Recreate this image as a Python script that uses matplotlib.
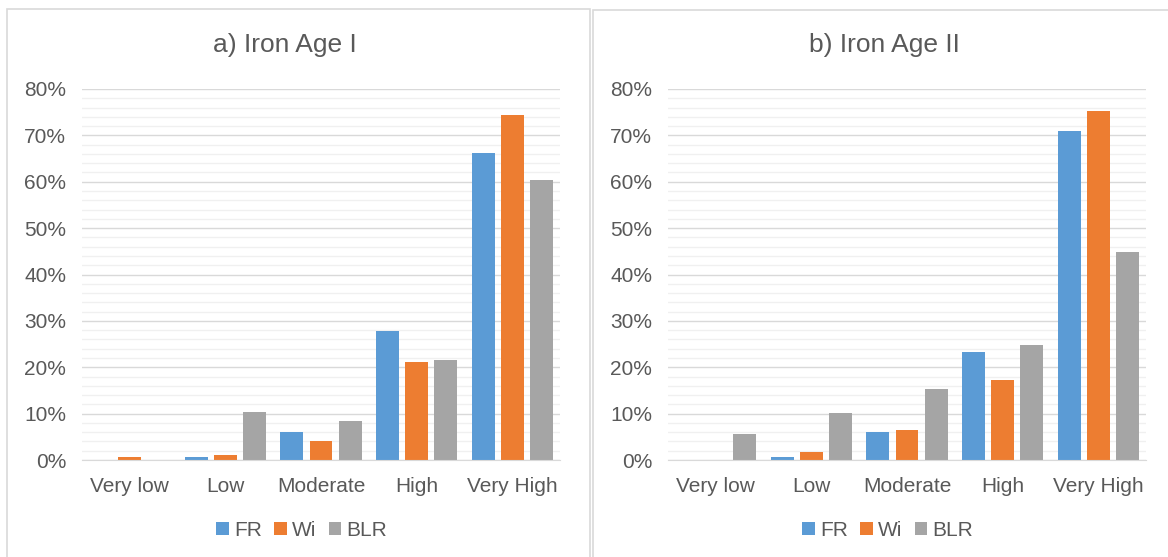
import numpy as np
import matplotlib
matplotlib.use("Agg")
from matplotlib import pyplot as plt
from matplotlib.patches import Rectangle
from matplotlib.ticker import MultipleLocator, PercentFormatter

categories = ["Very low", "Low", "Moderate", "High", "Very High"]
series = ["FR", "Wi", "BLR"]
colors = ["#5B9BD5", "#ED7D31", "#A5A5A5"]

iron_age_1 = {
    "FR": [0.0, 0.7, 6.0, 27.9, 66.2],
    "Wi": [0.6, 1.0, 4.0, 21.1, 74.5],
    "BLR": [0.0, 10.3, 8.5, 21.5, 60.3],
}
iron_age_2 = {
    "FR": [0.0, 0.6, 6.0, 23.2, 71.0],
    "Wi": [0.0, 1.8, 6.5, 17.3, 75.3],
    "BLR": [5.6, 10.2, 15.3, 24.8, 44.9],
}
titles = ["a) Iron Age I", "b) Iron Age II"]

plt.rcParams['font.family'] = ['Liberation Sans', 'DejaVu Sans']
text_col = "#595959"

W, H = 1168, 557
fig = plt.figure(figsize=(W / 100, H / 100), dpi=100)

# panel frames (pixel coords: left, top, right, bottom)
frames = [(7, 9, 590, 570), (593, 10, 1180, 570)]
for (l, t, r, b) in frames:
    fig.patches.append(Rectangle((l / W, 1 - b / H), (r - l) / W, (b - t) / H,
                                 transform=fig.transFigure, fill=False,
                                 edgecolor="#D9D9D9", linewidth=1.2))

# plot areas (pixel coords)
areas = [(82, 89, 560, 460), (668, 89, 1146, 460)]
title_x = [285, 884]
x = np.arange(len(categories))
width = 0.24

for data, title, (l, t, r, b), tx in zip(
        [iron_age_1, iron_age_2], titles, areas, title_x):
    ax = fig.add_axes([l / W, 1 - b / H, (r - l) / W, (b - t) / H])
    for i, (name, col) in enumerate(zip(series, colors)):
        ax.bar(x + (i - 1) * (width + 0.065), data[name], width,
               color=col, label=name, zorder=3)
    ax.set_ylim(0, 80)
    ax.set_xlim(-0.5, 4.5)
    ax.yaxis.set_major_locator(MultipleLocator(10))
    ax.yaxis.set_minor_locator(MultipleLocator(2))
    ax.yaxis.set_major_formatter(PercentFormatter(decimals=0))
    ax.grid(axis="y", which="major", color="#D9D9D9", linewidth=1.0, zorder=0)
    ax.grid(axis="y", which="minor", color="#F0F0F0", linewidth=1.0, zorder=0)
    for s in ["top", "right", "left"]:
        ax.spines[s].set_visible(False)
    ax.spines["bottom"].set_color("#D9D9D9")
    ax.spines["bottom"].set_zorder(4)
    ax.set_xticks(x)
    ax.set_xticklabels(categories)
    ax.tick_params(axis="both", which="both", length=0, labelsize=15,
                   labelcolor=text_col)
    ax.tick_params(axis="y", pad=11.5)
    ax.tick_params(axis="x", pad=12)
    fig.text(tx / W, 1 - 45 / H, title, ha="center", va="center",
             fontsize=19, color=text_col)
    ax.legend(loc="center", bbox_to_anchor=(0.5 - 0.04, -0.19), ncol=3,
              frameon=False, fontsize=15, handlelength=0.6, handleheight=0.6,
              handletextpad=0.25, columnspacing=0.6, labelcolor=text_col)

fig.savefig("out.png", dpi=100, facecolor="white")
